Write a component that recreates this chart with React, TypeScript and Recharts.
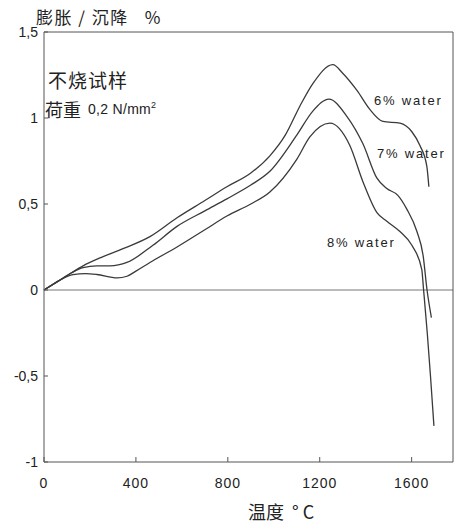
import React from 'react';
import { LineChart, Line, XAxis, YAxis, ReferenceLine } from 'recharts';

// temperature (°C) / expansion-shrinkage (%)
const t6 = [0, 60, 120, 170, 250, 344, 461, 579, 700, 796, 900, 983, 1050, 1114, 1170, 1257, 1300, 1362, 1418, 1475, 1549, 1601, 1636, 1666, 1675];
const v6 = [0, 0.05, 0.1, 0.14, 0.19, 0.24, 0.31, 0.42, 0.52, 0.6, 0.68, 0.78, 0.9, 1.07, 1.2, 1.31, 1.26, 1.16, 1.05, 0.98, 0.97, 0.92, 0.84, 0.72, 0.6];

const t7 = [0, 60, 120, 170, 230, 287, 361, 474, 579, 700, 796, 900, 983, 1100, 1170, 1240, 1318, 1388, 1449, 1492, 1540, 1579, 1623, 1650, 1667, 1686];
const v7 = [0, 0.05, 0.1, 0.13, 0.14, 0.14, 0.16, 0.26, 0.37, 0.46, 0.53, 0.61, 0.69, 0.9, 1.04, 1.11, 1.01, 0.85, 0.65, 0.59, 0.55, 0.47, 0.34, 0.2, 0, -0.16];

const t8 = [0, 60, 126, 180, 230, 318, 361, 400, 461, 579, 700, 796, 900, 983, 1100, 1157, 1244, 1331, 1388, 1449, 1492, 1549, 1601, 1644, 1652, 1668, 1682, 1697];
const v8 = [0, 0.05, 0.09, 0.095, 0.09, 0.07, 0.08, 0.11, 0.16, 0.25, 0.35, 0.43, 0.5, 0.57, 0.76, 0.89, 0.97, 0.84, 0.63, 0.45, 0.4, 0.34, 0.26, 0.12, 0, -0.25, -0.5, -0.79];

const xTicks = [0, 400, 800, 1200, 1600];
const yTicks = [-1, -0.5, 0, 0.5, 1, 1.5];
const seriesNames = ['6% water', '7% water', '8% water'];

const toRows = (t: number[], v: number[]) => t.map((x, i) => ({ t: x, v: v[i] }));
const series = [toRows(t6, v6), toRows(t7, v7), toRows(t8, v8)];

const W = 459, H = 525;
const ink = '#3a3a3a';
const sans = '"Liberation Sans", Arial, sans-serif';
const cjk = '"Noto Sans CJK SC", sans-serif';

const fmt = (v: number) => String(v).replace('.', ',');

export default function App() {
  return (
    <div style={{ position: 'absolute', left: 0, top: 0, width: W, height: H, background: '#fff' }}>
      <LineChart width={W} height={H} margin={{ top: 32, right: 6, left: 0, bottom: 0 }}>
        <XAxis
          type="number"
          dataKey="t"
          domain={[0, 1780]}
          ticks={xTicks}
          height={63}
          tickSize={-5}
          tickMargin={21}
          axisLine={{ stroke: '#555' }}
          tickLine={{ stroke: '#555' }}
          tick={{ fill: '#222', fontSize: 14, fontFamily: sans, letterSpacing: 1 }}
        />
        <YAxis
          type="number"
          dataKey="v"
          domain={[-1, 1.5]}
          ticks={yTicks}
          width={44}
          tickSize={-4}
          tickMargin={10}
          tickFormatter={fmt}
          axisLine={{ stroke: '#555' }}
          tickLine={{ stroke: '#555' }}
          tick={{ fill: '#222', fontSize: 14, fontFamily: sans }}
        />
        <ReferenceLine y={0} stroke="#777" strokeWidth={1} />
        <ReferenceLine y={1.5} stroke="#555" strokeWidth={1} />
        <ReferenceLine x={1780} stroke="#555" strokeWidth={1} />
        {series.map((d, i) => (
          <Line
            key={seriesNames[i]}
            data={d}
            dataKey="v"
            type="monotone"
            stroke={ink}
            strokeWidth={1.3}
            dot={false}
            isAnimationActive={false}
          />
        ))}
      </LineChart>
      <svg width={W} height={H} style={{ position: 'absolute', left: 0, top: 0, pointerEvents: 'none' }}>
        <text x={36} y={24} fontSize={17} fontFamily={cjk} fill="#222" letterSpacing={1.5} style={{ whiteSpace: 'pre' }}>膨胀 / 沉降   %</text>
        <text x={48} y={88} fontSize={19} fontFamily={cjk} fill="#222" letterSpacing={1}>不烧试样</text>
        <text x={45} y={117} fontSize={18} fontFamily={cjk} fill="#222">荷重</text>
        <text x={88} y={114} fontSize={14} fontFamily={sans} fill="#222" letterSpacing={0.3}>
          0,2 N/mm<tspan fontSize={9} dy={-6}>2</tspan>
        </text>
        <text x={374} y={105} fontSize={13} fontFamily={sans} fill="#222" letterSpacing={1.8}>{seriesNames[0]}</text>
        <text x={377} y={158} fontSize={13} fontFamily={sans} fill="#222" letterSpacing={1.8}>{seriesNames[1]}</text>
        <text x={327} y={247} fontSize={13} fontFamily={sans} fill="#222" letterSpacing={1.8}>{seriesNames[2]}</text>
        <text x={248} y={519} fontSize={18} fontFamily={cjk} fill="#222" style={{ whiteSpace: 'pre' }}>温度  ° C</text>
      </svg>
    </div>
  );
}
